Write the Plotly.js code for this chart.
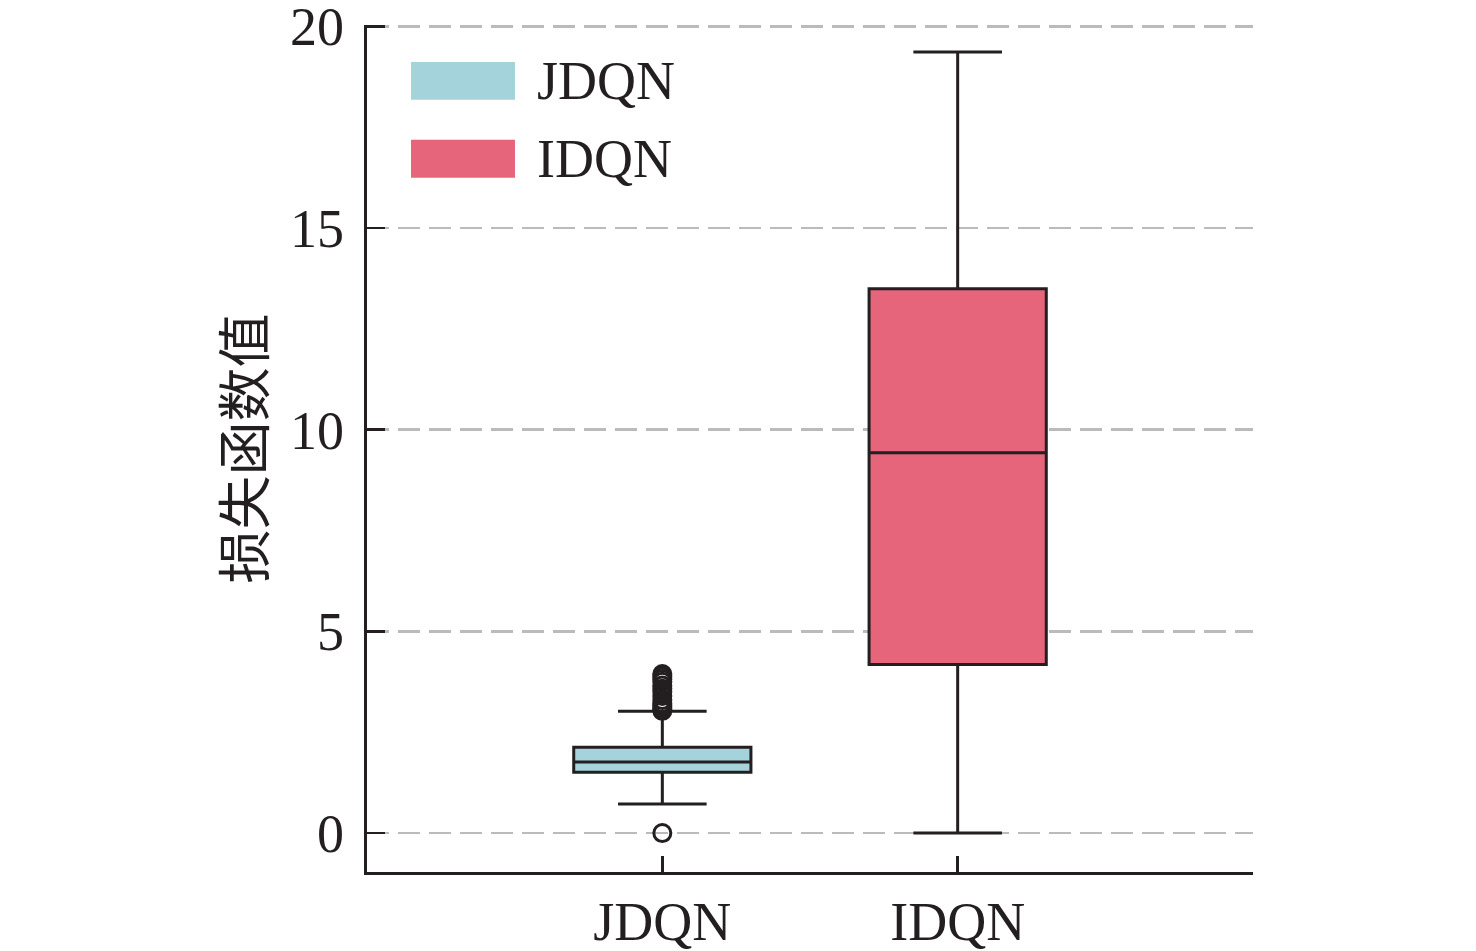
<!DOCTYPE html>
<html>
<head>
<meta charset="utf-8">
<script src="https://cdn.plot.ly/plotly-3.0.1.min.js"></script>
<style>
  html, body { margin: 0; padding: 0; background: #fff; }
  #chart { width: 1476px; height: 951px; }
</style>
</head>
<body>
<div id="chart"></div>
<script>
// Box statistics (loss value per method)
const methods     = ['JDQN', 'IDQN'];
const colors      = ['#A5D3DC', '#E6657A'];
const q1          = [1.51, 4.18];
const medians     = [1.76, 9.43];
const q3          = [2.13, 13.49];
const lowerFences = [0.72, 0.0];
const upperFences = [3.02, 19.36];

// JDQN outliers (IDQN has none)
const outlierX = ['JDQN', 'JDQN', 'JDQN', 'JDQN', 'JDQN', 'JDQN', 'JDQN',
                  'JDQN', 'JDQN', 'JDQN', 'JDQN', 'JDQN', 'JDQN', 'JDQN', 'JDQN'];
const outlierY = [0.0, 3.03, 3.07, 3.11, 3.16, 3.22, 3.30, 3.40,
                  3.50, 3.58, 3.66, 3.75, 3.82, 3.88, 3.94];

const yTicks = [0, 5, 10, 15, 20];

const ink   = '#231f20';
const serif = '"Liberation Serif", "Times New Roman", serif';

// ── Traces ────────────────────────────────────────────────────────────────────
const boxTraces = methods.map((m, i) => ({
  type: 'box',
  name: m,
  x: [m],
  q1: [q1[i]], median: [medians[i]], q3: [q3[i]],
  lowerfence: [lowerFences[i]], upperfence: [upperFences[i]],
  width: 0.6,
  whiskerwidth: 0.5,
  fillcolor: colors[i],
  line: { color: ink, width: 3 },
  boxpoints: false,
  hoverinfo: 'skip',
  showlegend: false,
}));

const outlierTrace = {
  type: 'scatter', mode: 'markers',
  x: outlierX, y: outlierY,
  marker: { symbol: 'circle-open', size: 17, color: ink, line: { width: 3, color: ink } },
  hoverinfo: 'skip',
  showlegend: false,
};

// ── Legend drawn as swatches + text (filled rectangles, no border) ─────────────
const legendRows = [0.934, 0.842];   // paper y of each row centre
const legendShapes = methods.map((m, i) => ({
  type: 'rect', xref: 'paper', yref: 'paper',
  x0: 0.0497, x1: 0.167, y0: legendRows[i] - 0.0224, y1: legendRows[i] + 0.0224,
  fillcolor: colors[i], line: { width: 0 },
}));
const legendText = methods.map((m, i) => ({
  xref: 'paper', yref: 'paper', x: 0.1895, y: legendRows[i],
  xanchor: 'left', yanchor: 'middle', showarrow: false,
  text: m, font: { family: serif, size: 54, color: ink },
}));

// ── Layout ────────────────────────────────────────────────────────────────────
const layout = {
  width: 1476, height: 951,
  margin: { l: 367, r: 223, t: 25, b: 79 },
  paper_bgcolor: 'white', plot_bgcolor: 'white',
  showlegend: false,
  font: { family: serif, color: ink },
  xaxis: {
    type: 'category',
    categoryarray: methods,
    range: [-1, 2],
    showline: true, linecolor: ink, linewidth: 3.2,
    ticks: 'inside', ticklen: 16, tickwidth: 2.8, tickcolor: ink,
    showgrid: false, zeroline: false,
    tickfont: { family: serif, size: 54, color: ink },
    ticklabelstandoff: 0,
  },
  yaxis: {
    range: [-0.965, 20.03],
    tickvals: yTicks,
    ticktext: yTicks.map(String),
    ticklabeloverflow: 'allow',
    showline: true, linecolor: ink, linewidth: 3.2,
    ticks: 'inside', ticklen: 18, tickwidth: 2.8, tickcolor: ink,
    showgrid: true, gridcolor: '#bbbbbb', gridwidth: 2.8, griddash: '22px,9px',
    zeroline: false,
    tickfont: { family: serif, size: 54, color: ink },
    ticklabelstandoff: 9,
    title: {
      text: '损失函数值',
      font: { family: '"Noto Sans CJK SC", sans-serif', size: 54, color: ink },
      standoff: 8,
    },
  },
  shapes: legendShapes,
  annotations: legendText,
};

Plotly.newPlot('chart', [...boxTraces, outlierTrace], layout,
               { displayModeBar: false, staticPlot: true });
</script>
</body>
</html>
